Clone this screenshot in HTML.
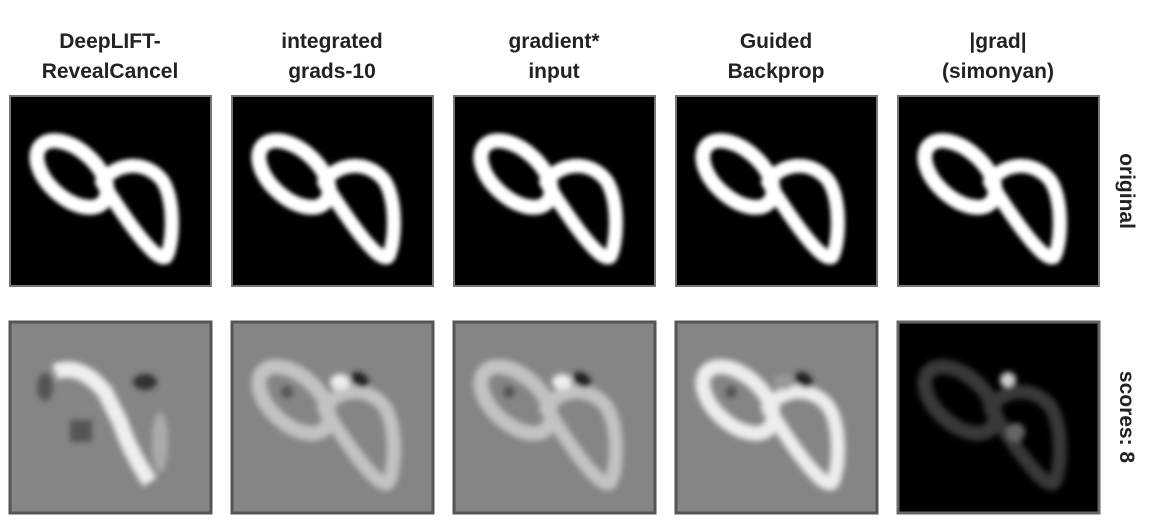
<!DOCTYPE html>
<html><head><meta charset="utf-8"><style>
html,body{margin:0;padding:0;background:#fff;}
svg{display:block;font-family:"Liberation Sans",sans-serif;}
</style></head><body>
<svg width="1156" height="531" viewBox="0 0 1156 531">
<defs>
<filter id="b4" x="-20%" y="-20%" width="140%" height="140%"><feGaussianBlur stdDeviation="3"/></filter>
<filter id="b2" x="-20%" y="-20%" width="140%" height="140%"><feGaussianBlur stdDeviation="2.2"/></filter>
<g id="eight" fill="none" stroke="#fff" stroke-linejoin="round">
<ellipse cx="62" cy="78" rx="42" ry="24" transform="rotate(42 62 78)" stroke-width="15"/>
<path d="M92 86 C104 68 134 62 152 84 C166 104 163 150 156 161 C146 166 120 130 92 86 Z" stroke-width="14"/>
</g>
</defs>
<g id="titles" font-weight="bold" font-size="21" fill="#222" text-anchor="middle">
<text x="110" y="48">DeepLIFT-</text>
<text x="110" y="78">RevealCancel</text>
<text x="332" y="48">integrated</text>
<text x="332" y="78">grads-10</text>
<text x="554" y="48">gradient*</text>
<text x="554" y="78">input</text>
<text x="776" y="48">Guided</text>
<text x="776" y="78">Backprop</text>
<text x="998" y="48">|grad|</text>
<text x="998" y="78">(simonyan)</text>
</g>
<g id="top-row"></g>
<g id="bottom-row"></g>
<text transform="translate(1120 191) rotate(90)" text-anchor="middle" font-size="21" font-weight="bold" fill="#222">original</text>
<text transform="translate(1120 417) rotate(90)" text-anchor="middle" font-size="21" font-weight="bold" fill="#222">scores: 8</text>
</svg>
<script>
const panelX = [10, 232, 454, 676, 898];
const methods = ['deeplift','integrated-grads','gradient-input','guided-backprop','grad'];
const NS = 'http://www.w3.org/2000/svg';
const topRow = document.getElementById('top-row');
const botRow = document.getElementById('bottom-row');
function mk(tag, attrs){const e=document.createElementNS(NS,tag);for(const k in attrs)e.setAttribute(k,attrs[k]);return e;}
methods.forEach((m,i)=>{
  const x=panelX[i];
  const g=mk('g',{transform:`translate(${x} 96)`});
  
  
  g.appendChild(mk('rect',{x:0,y:0,width:201,height:190,fill:'#000',stroke:'#777','stroke-width':2}));
  g.appendChild(mk('use',{href:'#eight',filter:'url(#b2)'}));
  topRow.appendChild(g);
  const h=mk('g',{transform:`translate(${x} 322)`});
  
  
  const isGrad = i===4;
  h.appendChild(mk('rect',{x:0,y:0,width:201,height:191,fill:isGrad?'#000':'#858585',stroke:isGrad?'#666':'#555','stroke-width':3}));
  const inner=mk('g',{filter:'url(#b4)'});
  if(isGrad){
    inner.appendChild(mk('use',{href:'#eight',opacity:0.22}));
    inner.appendChild(mk('circle',{cx:110,cy:58,r:8,fill:'#ccc'}));
    inner.appendChild(mk('circle',{cx:118,cy:110,r:9,fill:'#666'}));
  } else if(i===0){
    inner.appendChild(mk('path',{d:'M45 50 Q70 40 95 70 Q105 90 110 100 Q120 130 140 160',fill:'none',stroke:'#eee','stroke-width':16}));
    inner.appendChild(mk('ellipse',{cx:150,cy:120,rx:8,ry:30,fill:'#aaa'}));
    inner.appendChild(mk('rect',{x:60,y:98,width:22,height:22,fill:'#555'}));
    inner.appendChild(mk('ellipse',{cx:135,cy:60,rx:12,ry:8,fill:'#333'}));
    inner.appendChild(mk('ellipse',{cx:35,cy:65,rx:8,ry:14,fill:'#555'}));
  } else {
    const w=i===3?0.85:0.5;
    inner.appendChild(mk('use',{href:'#eight',opacity:w}));
    inner.appendChild(mk('ellipse',{cx:108,cy:60,rx:10,ry:8,fill:i===3?'#999':'#eee'}));
    inner.appendChild(mk('ellipse',{cx:128,cy:58,rx:10,ry:7,fill:'#222',transform:'rotate(35 128 58)'}));
    inner.appendChild(mk('circle',{cx:55,cy:70,r:6,fill:'#555'}));
  }
  h.appendChild(inner);
  botRow.appendChild(h);
});
</script>
</body></html>
